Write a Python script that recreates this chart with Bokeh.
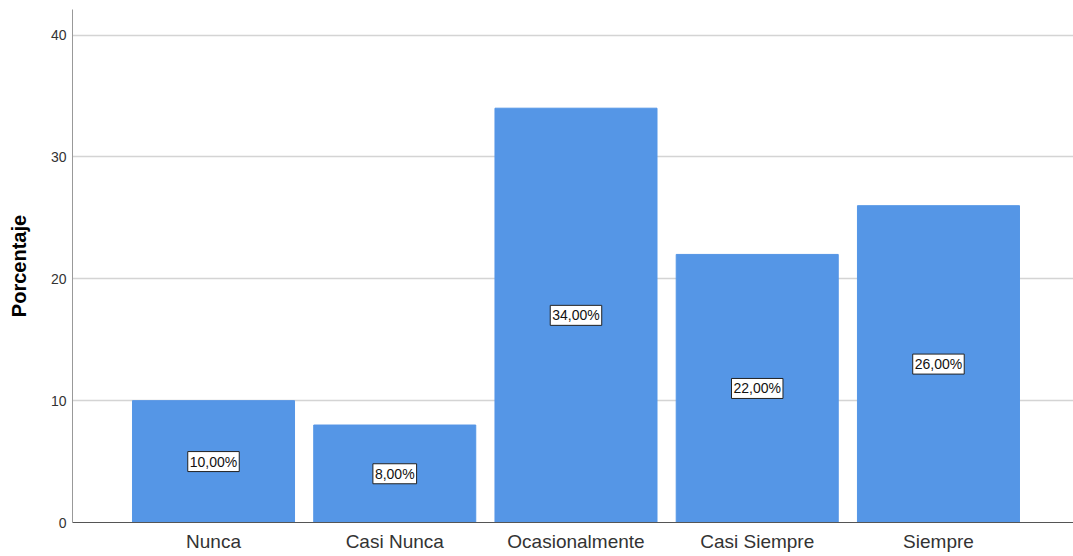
from bokeh.plotting import figure
from bokeh.models import ColumnDataSource, FixedTicker, Range1d
from bokeh.core.properties import value
from bokeh.embed import file_html
from bokeh.resources import INLINE

categories = ["Nunca", "Casi Nunca", "Ocasionalmente", "Casi Siempre", "Siempre"]
percentages = [10.0, 8.0, 34.0, 22.0, 26.0]
y_ticks = [0, 10, 20, 30, 40]

xs = list(range(len(categories)))
labels = [f"{v:.2f}".replace(".", ",") + "%" for v in percentages]
source = ColumnDataSource(dict(x=xs, top=percentages, mid=[v / 2 for v in percentages], label=labels))

FONT = "Liberation Sans"

# frame: left 72, right 1073, top 9, bottom 522 (px)
p = figure(width=1073, height=556, output_backend="svg", toolbar_location=None,
           x_range=Range1d(-0.778, 4.745), y_range=Range1d(0, 42.1),
           min_border_left=72, min_border_right=0, min_border_top=9, min_border_bottom=34)
p.outline_line_color = None
p.background_fill_color = "white"

p.vbar(x="x", top="top", bottom=0, width=0.894, source=source,
       fill_color="#5596e6", line_color="#5596e6", line_width=1)

p.text(x="x", y="mid", text="label", source=source,
       text_align="center", text_baseline="middle",
       text_font=value(FONT), text_font_size="14px", text_color="#111111",
       background_fill_color="white", border_line_color="#222222",
       border_line_width=1, padding=(2, 2))

# x axis
p.xaxis.ticker = FixedTicker(ticks=xs)
p.xaxis.major_label_overrides = {i: c for i, c in enumerate(categories)}
p.xaxis.major_tick_in = 0
p.xaxis.major_tick_out = 0
p.xaxis.minor_tick_line_color = None
p.xaxis.axis_line_color = "#555555"
p.xaxis.major_label_text_font = FONT
p.xaxis.major_label_text_font_size = "19px"
p.xaxis.major_label_text_color = "#333333"
p.xaxis.major_label_standoff = 8
p.xgrid.grid_line_color = None

# y axis
p.yaxis.ticker = FixedTicker(ticks=y_ticks)
p.yaxis.major_tick_in = 0
p.yaxis.major_tick_out = 0
p.yaxis.minor_tick_line_color = None
p.yaxis.axis_line_color = "#999999"
p.yaxis.major_label_text_font = FONT
p.yaxis.major_label_text_font_size = "14px"
p.yaxis.major_label_text_color = "#333333"
p.yaxis.major_label_standoff = 6
p.yaxis.axis_label = "Porcentaje"
p.yaxis.axis_label_text_font = FONT
p.yaxis.axis_label_text_font_style = "bold"
p.yaxis.axis_label_text_font_size = "20px"
p.yaxis.axis_label_text_color = "#000000"
p.yaxis.axis_label_standoff = 18
p.ygrid.grid_line_color = "#d4d4d4"
p.ygrid.grid_line_width = 1.5

open("out.html", "w").write(file_html(p, INLINE))
